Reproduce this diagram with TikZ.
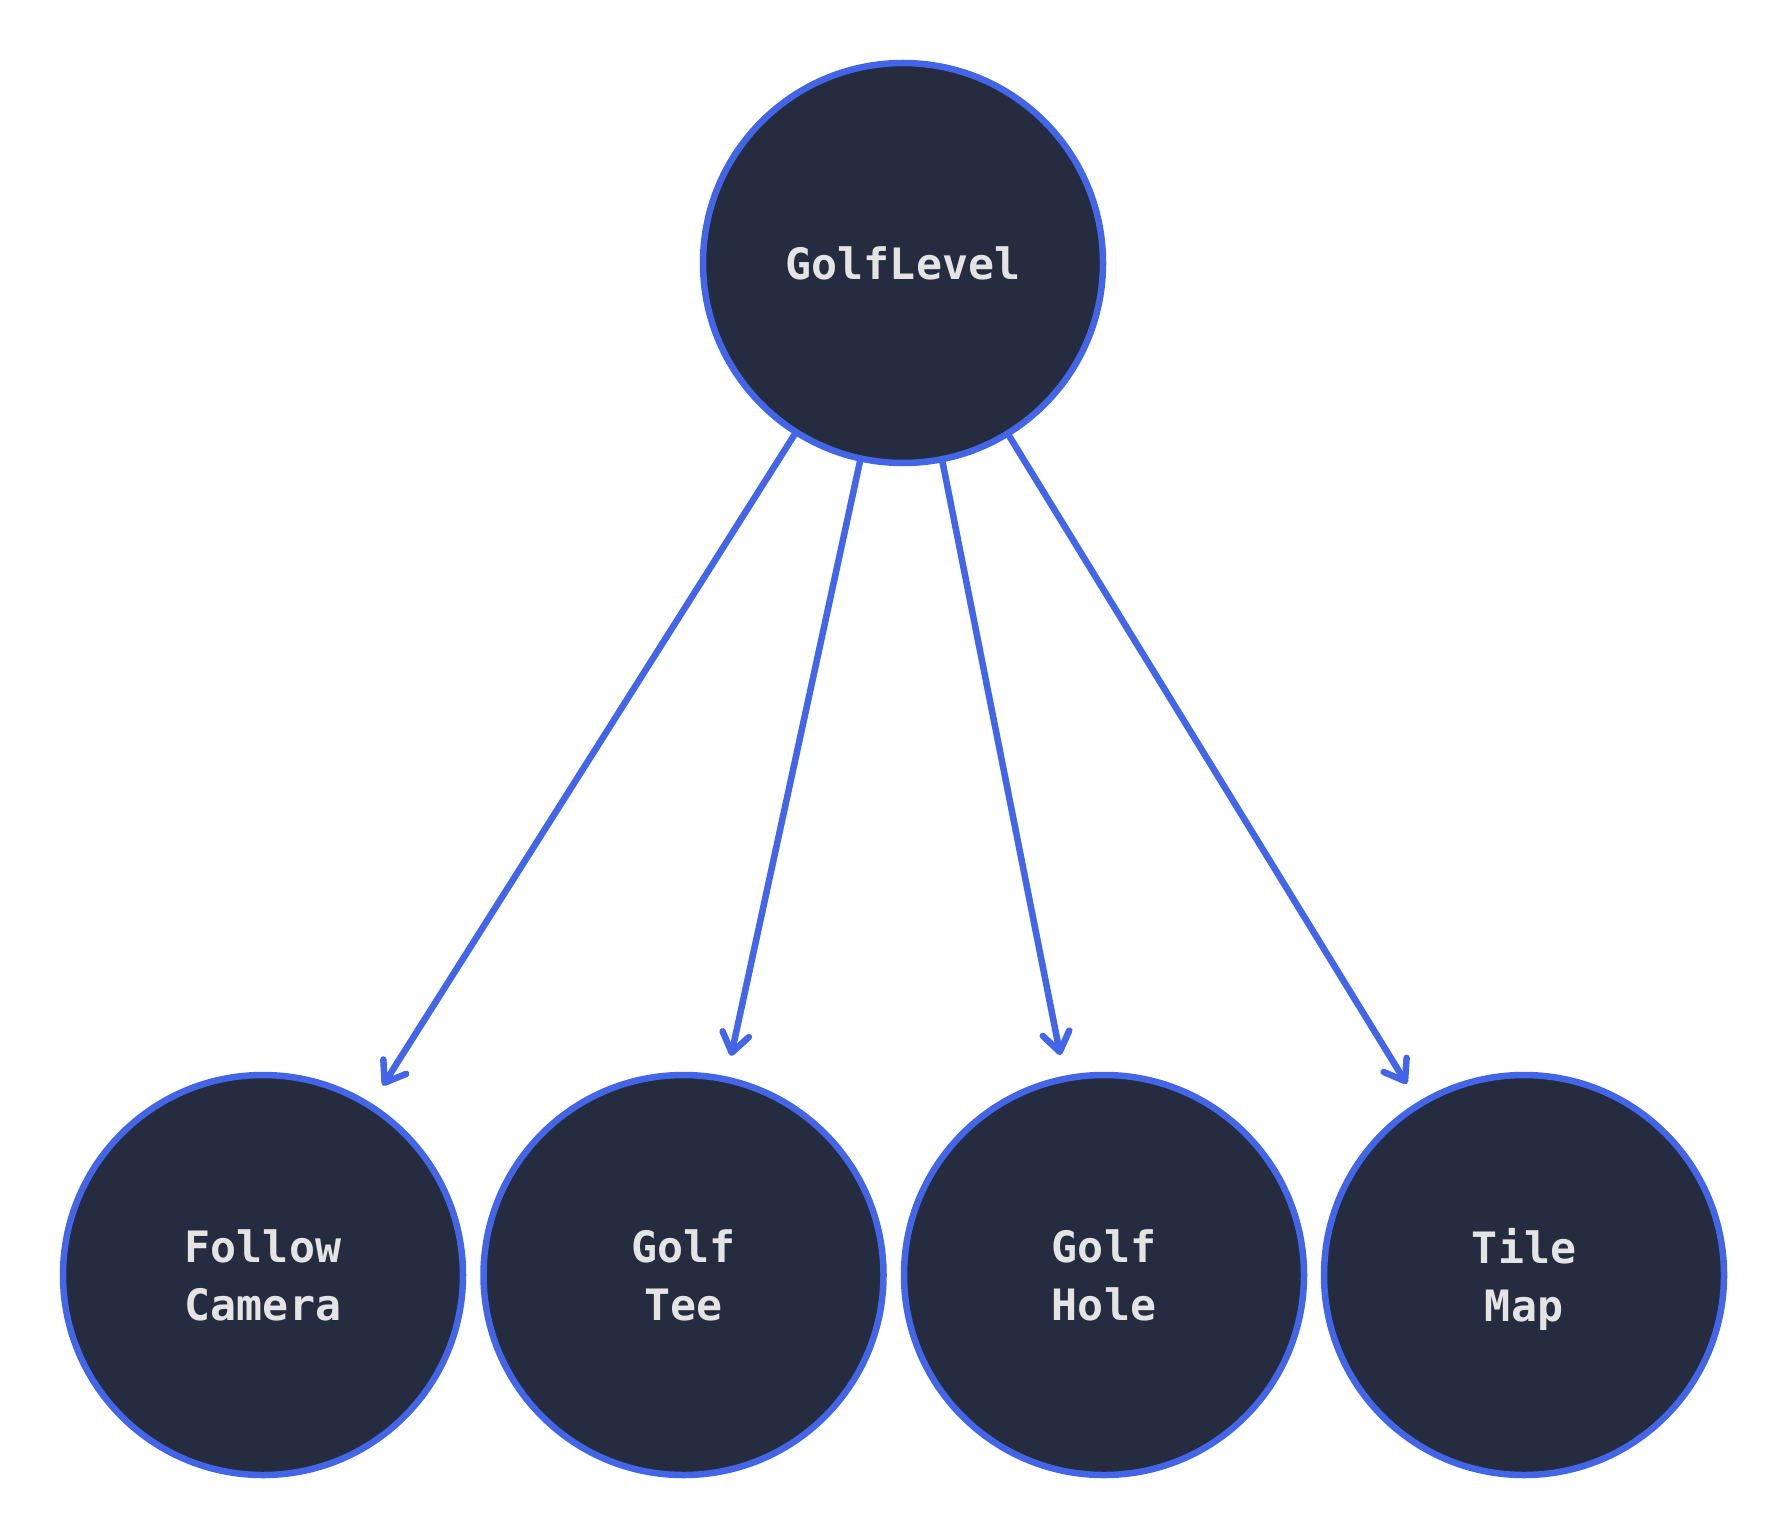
\documentclass[tikz,border=0pt]{standalone}
\usepackage{fontspec}
\setmonofont{DejaVu Sans Mono}
\usetikzlibrary{arrows.meta}
\definecolor{nodefill}{RGB}{38,44,64}
\definecolor{edgeblue}{RGB}{67,102,232}
\definecolor{labelgray}{RGB}{228,228,228}

\begin{document}
\begin{tikzpicture}[
    entity/.style={circle, draw=edgeblue, fill=nodefill, line width=0.065cm,
      minimum size=4cm, inner sep=0pt, align=center, text=labelgray,
      text depth=0pt,
      font=\ttfamily\bfseries\fontsize{12.3pt}{16.5pt}\selectfont},
    owns/.style={draw=edgeblue, line width=0.065cm, line cap=round,
      -{Straight Barb[length=1.9mm,width=2.7mm,round]},
      shorten >=0.21cm}]
  \useasboundingbox (0, 0) rectangle (17.88, -15.39);

  \node[entity] (level)  at (9.03, -2.63)  {GolfLevel};

  \node[entity] (camera) at (2.63, -12.75)  {Follow\\Camera};
  \node[entity] (tee)    at (6.835, -12.75) {Golf\\Tee};
  \node[entity] (hole)   at (11.04, -12.75) {Golf\\Hole};
  \node[entity] (tilemap) at (15.24, -12.75) {Tile\\Map};

  \draw[owns] (level) -- (camera);
  \draw[owns] (level) -- (tee);
  \draw[owns] (level) -- (hole);
  \draw[owns] (level) -- (tilemap);
\end{tikzpicture}
\end{document}
